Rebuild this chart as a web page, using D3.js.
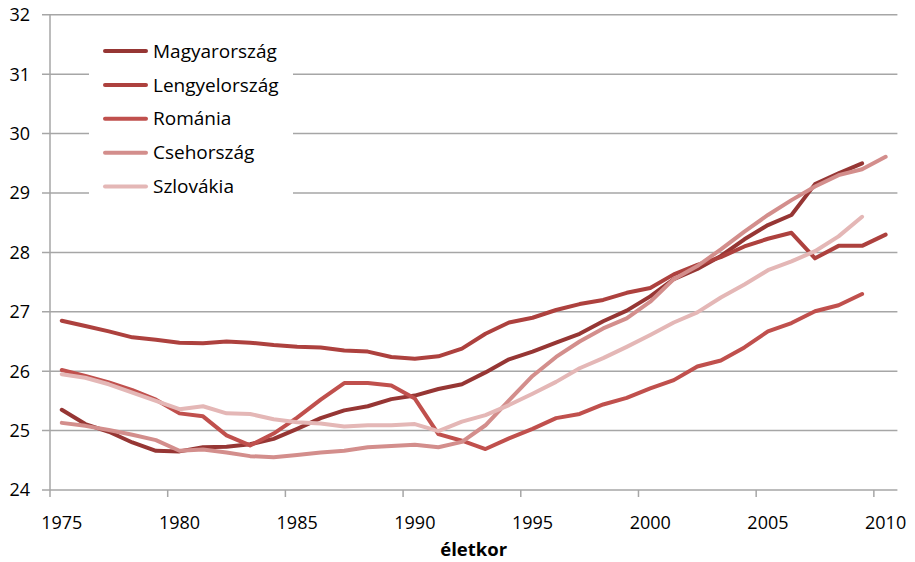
<!DOCTYPE html>
<meta charset="utf-8">
<style>
  body { margin: 0; background: #fff; }
  text { font-family: "Open Sans", "Liberation Sans", sans-serif; fill: #000; }
</style>
<body>
<script src="https://d3js.org/d3.v7.min.js"></script>
<script>

var width = 915,
    height = 562;

// categories (years) and the five series
var years = [1975, 1976, 1977, 1978, 1979, 1980, 1981, 1982, 1983, 1984,
             1985, 1986, 1987, 1988, 1989, 1990, 1991, 1992, 1993, 1994,
             1995, 1996, 1997, 1998, 1999, 2000, 2001, 2002, 2003, 2004,
             2005, 2006, 2007, 2008, 2009, 2010];

var magyar = [25.35, 25.11, 24.98, 24.80, 24.66, 24.65, 24.72, 24.73, 24.77, 24.86,
              25.03, 25.21, 25.34, 25.41, 25.53, 25.59, 25.70, 25.78, 25.98, 26.20,
              26.33, 26.48, 26.63, 26.84, 27.02, 27.26, 27.55, 27.72, 27.94, 28.22,
              28.46, 28.63, 29.15, 29.33, 29.50, null];

var lengyel = [26.85, 26.76, 26.67, 26.57, 26.53, 26.48, 26.47, 26.50, 26.48, 26.44,
               26.41, 26.40, 26.35, 26.33, 26.24, 26.21, 26.25, 26.38, 26.63, 26.82,
               26.90, 27.03, 27.13, 27.20, 27.32, 27.40, 27.63, 27.79, 27.92, 28.10,
               28.23, 28.33, 27.90, 28.11, 28.11, 28.30];

var romania = [26.02, 25.92, 25.81, 25.68, 25.52, 25.29, 25.24, 24.92, 24.75, 24.95,
               25.22, 25.52, 25.80, 25.80, 25.76, 25.54, 24.94, 24.83, 24.69, 24.87,
               25.03, 25.21, 25.28, 25.44, 25.55, 25.71, 25.85, 26.08, 26.18, 26.40,
               26.67, 26.81, 27.01, 27.11, 27.30, null];

var cseh = [25.13, 25.08, 25.01, 24.93, 24.84, 24.66, 24.68, 24.63, 24.57, 24.55,
            24.59, 24.63, 24.66, 24.72, 24.74, 24.76, 24.72, 24.81, 25.09, 25.51,
            25.92, 26.24, 26.50, 26.72, 26.89, 27.17, 27.55, 27.77, 28.05, 28.35,
            28.63, 28.88, 29.11, 29.30, 29.40, 29.61];

var szlovakia = [25.95, 25.89, 25.78, 25.64, 25.50, 25.36, 25.41, 25.29, 25.28, 25.19,
                 25.14, 25.12, 25.07, 25.09, 25.09, 25.11, 24.99, 25.15, 25.26, 25.43,
                 25.62, 25.82, 26.05, 26.22, 26.41, 26.61, 26.82, 26.99, 27.24, 27.46,
                 27.70, 27.85, 28.02, 28.27, 28.60, null];

var names = ["Magyarország", "Lengyelország", "Románia", "Csehország", "Szlovákia"];
var colors = ["#963634", "#ad413e", "#c0504d", "#d38e8c", "#e4b7b6"];
var yTicks = [24, 25, 26, 27, 28, 29, 30, 31, 32];
var xLabels = [1975, 1980, 1985, 1990, 1995, 2000, 2005, 2010];
var axisTitle = "életkor";

var series = [magyar, lengyel, romania, cseh, szlovakia];

var margin = {left: 50, right: 17.6, top: 14.8, bottom: 72};

var x = d3.scaleBand()
    .domain(years)
    .range([margin.left, width - margin.right])
    .padding(0);

var y = d3.scaleLinear()
    .domain([24, 32])
    .range([height - margin.bottom, margin.top]);

var svg = d3.select("body").append("svg")
    .attr("width", width)
    .attr("height", height);

// gridlines
svg.append("g").selectAll("line")
  .data(yTicks)
  .enter().append("line")
    .attr("x1", margin.left - 8)
    .attr("x2", width - margin.right)
    .attr("y1", d => y(d))
    .attr("y2", d => y(d))
    .attr("stroke", "#a6a6a6")
    .attr("stroke-width", 1.5);

// y axis line
svg.append("line")
    .attr("x1", margin.left).attr("x2", margin.left)
    .attr("y1", y(24)).attr("y2", y(32))
    .attr("stroke", "#a6a6a6")
    .attr("stroke-width", 1.5);

svg.append("g").selectAll("text")
  .data(yTicks)
  .enter().append("text")
    .attr("x", 30)
    .attr("y", d => y(d))
    .attr("dy", "0.35em")
    .attr("text-anchor", "end")
    .style("font-size", "18px")
    .text(d => d);

// x axis: ticks between categories, every 5 years
svg.append("g").selectAll("line")
  .data(xLabels)
  .enter().append("line")
    .attr("x1", d => x(d)).attr("x2", d => x(d))
    .attr("y1", y(24)).attr("y2", y(24) + 7)
    .attr("stroke", "#a6a6a6")
    .attr("stroke-width", 1.5);

svg.append("g").selectAll("text")
  .data(xLabels)
  .enter().append("text")
    .attr("x", d => x(d) + x.bandwidth() / 2)
    .attr("y", 523)
    .attr("dy", "0.35em")
    .attr("text-anchor", "middle")
    .style("font-size", "18px")
    .text(d => d);

svg.append("text")
    .attr("x", (margin.left + width - margin.right) / 2)
    .attr("y", 550)
    .attr("dy", "0.35em")
    .attr("text-anchor", "middle")
    .style("font-size", "18.5px")
    .style("font-weight", "bold")
    .text(axisTitle);

// lines
var line = d3.line()
    .defined(d => d.v != null)
    .x(d => x(d.year) + x.bandwidth() / 2)
    .y(d => y(d.v));

svg.append("g").selectAll("path")
  .data(series)
  .enter().append("path")
    .attr("d", s => line(s.map((v, i) => ({year: years[i], v: v}))))
    .attr("fill", "none")
    .attr("stroke", (s, i) => colors[i])
    .attr("stroke-width", 4)
    .attr("stroke-linejoin", "round")
    .attr("stroke-linecap", "round");

// legend
var legend = svg.append("g");

legend.append("rect")
    .attr("x", 89).attr("y", 30)
    .attr("width", 204).attr("height", 176)
    .attr("fill", "#fff");

var item = legend.selectAll("g")
  .data(names)
  .enter().append("g")
    .attr("transform", (d, i) => "translate(0," + (51 + i * 33.9) + ")");

item.append("line")
    .attr("x1", 105).attr("x2", 146)
    .attr("stroke", (d, i) => colors[i])
    .attr("stroke-width", 4)
    .attr("stroke-linecap", "round");

item.append("text")
    .attr("x", 153)
    .attr("dy", "0.35em")
    .style("font-size", "19px")
    .text(d => d);

</script>
